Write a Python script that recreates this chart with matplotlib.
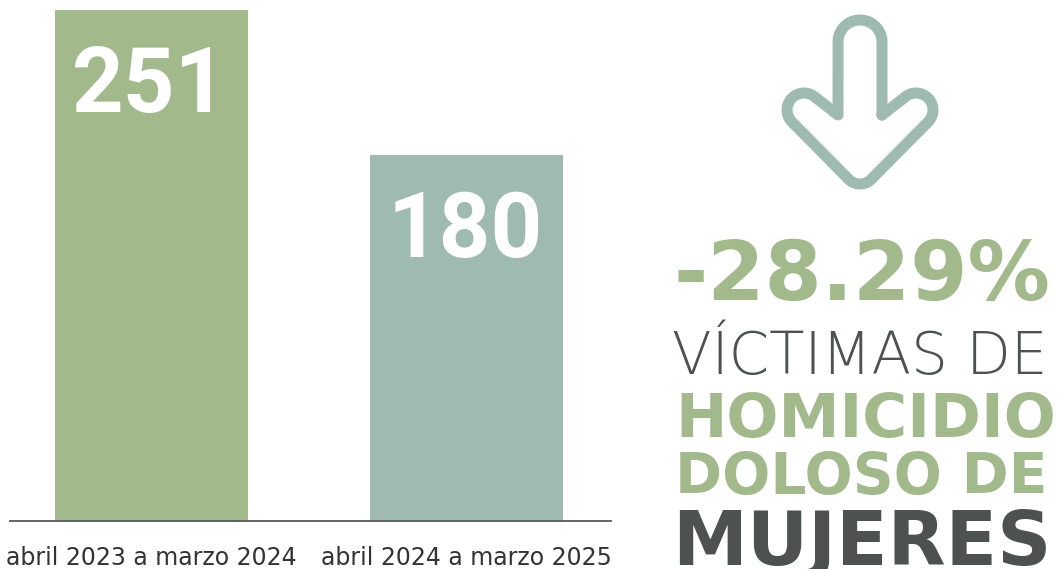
import matplotlib
matplotlib.use("Agg")
import matplotlib.pyplot as plt
from matplotlib.path import Path
from matplotlib.patches import PathPatch
import numpy as np

# ---------------- data ----------------
periods = ["abril 2023 a marzo 2024", "abril 2024 a marzo 2025"]
victims = [251, 180]
bar_colors = ["#a2b98c", "#9fbab1"]
pct_change = "-28.29%"
caption_lines = ["VÍCTIMAS DE", "HOMICIDIO", "DOLOSO DE", "MUJERES"]

GREEN = "#a2b98c"
TEAL = "#9fbab1"
DARK = "#4d5150"

W, H = 1060, 569
fig = plt.figure(figsize=(W / 100, H / 100), dpi=100)
fig.patch.set_facecolor("white")

def fx(px):
    return px / W

def fy(py):
    return 1 - py / H

# ---------------- bar chart ----------------
ax = fig.add_axes([fx(10), 48 / H, 601 / W, 511 / H])
x = np.arange(len(victims))
ax.bar(x, victims, width=0.613, color=bar_colors)
ax.set_xlim(-0.449, 1.459)
ax.set_ylim(0, max(victims))
for s in ["top", "left", "right"]:
    ax.spines[s].set_visible(False)
ax.spines["bottom"].set_color("#555a59")
ax.spines["bottom"].set_linewidth(1.3)
ax.set_yticks([])
ax.set_xticks(x, periods)
ax.tick_params(axis="x", length=0, pad=18, labelsize=17, labelcolor="#333333")
for lab in ax.get_xticklabels():
    lab.set_fontfamily("DejaVu Sans")

for xi, v in zip(x, victims):
    ax.annotate(str(v), (xi, v), xytext=(-1, -102 * 0.72), textcoords="offset points",
                ha="center", va="baseline", color="white", fontsize=65,
                fontweight="bold", fontfamily=["Roboto", "DejaVu Sans"])

# ---------------- arrow icon ----------------
def arc(cx, cy, r, a0, a1, n=40):
    t = np.radians(np.linspace(a0, a1, n))
    return list(zip(cx + r * np.cos(t), cy + r * np.sin(t)))

pts = []
pts += [(882, 115)]
pts += arc(916, 110, 17, 225, 405)
pts += arc(860, 168, 16, 45, 135)
pts += arc(804, 110, 17, 135, 315)
pts += [(838, 115), (838, 42)]
pts += arc(860, 42, 22, 180, 360)
pts += [(882, 42), (882, 115)]
verts = [(fx(px), fy(py)) for px, py in pts]
path = Path(verts)
patch = PathPatch(path, transform=fig.transFigure, facecolor="none", edgecolor=TEAL,
                  linewidth=11 * 0.72, joinstyle="round", capstyle="round")
fig.add_artist(patch)

# ---------------- right-hand text ----------------
specs = [
    (pct_change, 674, 300, 378, GREEN, "heavy"),
    (caption_lines[0], 672, 374, 375, DARK, "light"),
    (caption_lines[1], 675, 437, 382, GREEN, "bold"),
    (caption_lines[2], 675, 494, 372, GREEN, "bold"),
    (caption_lines[3], 672, 565, 380, DARK, "bold"),
]
texts = []
for s, x0, yb, tw, col, wt in specs:
    t = fig.text(fx(x0), fy(yb), s, ha="left", va="baseline", color=col,
                 fontsize=50, fontweight=wt, fontfamily=["DejaVu Sans"])
    texts.append((t, tw))

fig.canvas.draw()
r = fig.canvas.get_renderer()
for t, tw in texts:
    bb = t.get_window_extent(r)
    t.set_fontsize(t.get_fontsize() * tw / bb.width)

fig.savefig("out.png", dpi=100, facecolor="white")
